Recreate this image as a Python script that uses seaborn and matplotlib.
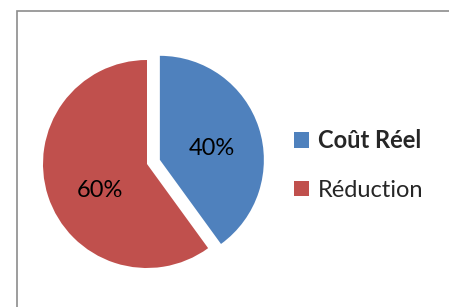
import matplotlib
matplotlib.use("Agg")
import matplotlib.pyplot as plt
import seaborn as sns
from matplotlib.patches import Rectangle

# data
labels = ["Coût Réel", "Réduction"]
values = [40, 60]
colors = ["#4F81BD", "#C0504D"]

sns.set_theme(style="white")
plt.rcParams["font.family"] = ["Lato", "DejaVu Sans"]

W, H = 449, 307
fig = plt.figure(figsize=(W / 100, H / 100), dpi=100)
fig.patch.set_facecolor("white")

# chart frame (runs off the right and bottom edges)
top = 1 - 11 / H
fig.patches.append(Rectangle((17 / W, -0.2), 1.5, top + 0.2,
                             transform=fig.transFigure, fill=False,
                             edgecolor="#8c8c8c", linewidth=1.2))

cx, cy, r = 147, 164, 104
ax = fig.add_axes([0, 0, 1, 1])

wedges, _, autotexts = ax.pie(values, colors=colors, startangle=90, counterclock=False,
                              explode=[0.13, 0], autopct="%1.0f%%", pctdistance=0.52,
                              textprops=dict(fontsize=17, color="black"),
                              wedgeprops=dict(linewidth=0))

# nudge the percentage labels a little, like Excel places them
for t, (dx, dy) in zip(autotexts, [(0.01, -0.05), (0.04, -0.09)]):
    x, y = t.get_position()
    t.set_position((x + dx, y + dy))

# pixel-scaled limits so the pie lands where it does in the reference
ax.set_aspect("auto")
ax.set_xlim(-cx / r, (W - cx) / r)
ax.set_ylim(-(H - cy) / r, cy / r)
ax.set_axis_off()

leg = ax.legend(wedges, labels, loc="center left",
                bbox_to_anchor=(294 / W, 1 - 165 / H), bbox_transform=fig.transFigure,
                frameon=False, fontsize=17, handlelength=0.62, handleheight=0.62,
                handletextpad=0.38, labelspacing=1.15, borderpad=0, borderaxespad=0)
leg.get_texts()[0].set_fontweight("bold")

fig.savefig("out.png", dpi=100, facecolor="white")
